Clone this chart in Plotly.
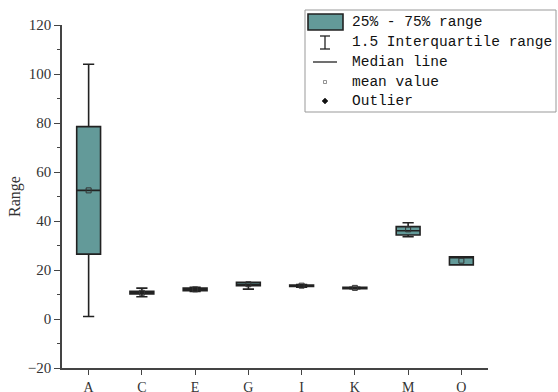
import plotly.graph_objects as go

categories = ["A", "C", "E", "G", "I", "K", "M", "O"]
q1 =          [26.5, 10.2, 11.6, 13.6, 13.3, 12.4, 34.3, 22.1]
median =      [52.5, 10.7, 12.1, 14.2, 13.6, 12.7, 36.0, 25.0]
q3 =          [78.5, 11.3, 12.6, 15.0, 13.9, 12.9, 37.7, 25.4]
lowerfence =  [1.0, 9.1, 11.2, 12.2, 13.0, 12.3, 33.6, 22.1]
upperfence =  [104.0, 12.6, 12.9, 15.0, 14.1, 13.0, 39.3, 25.4]
mean =        [52.5, 10.7, 12.1, 14.2, 13.6, 12.7, 36.6, 23.8]

legend_labels = ["25% - 75% range", "1.5 Interquartile range", "Median line", "mean value", "Outlier"]

FILL = "#639a99"
EDGE = "#222222"
W, H = 558, 392
L, R, T, B = 62, 488, 25, 368  # plot area in window pixels

fig = go.Figure()
fig.add_trace(go.Box(
    x=categories, q1=q1, median=median, q3=q3,
    lowerfence=lowerfence, upperfence=upperfence,
    fillcolor=FILL, line=dict(color=EDGE, width=1.6),
    whiskerwidth=0.47, boxpoints=False, showlegend=False,
    hoverinfo="skip",
))
fig.add_trace(go.Scatter(
    x=categories, y=mean, mode="markers",
    marker=dict(symbol="square-open", size=5, color="#333333", line=dict(width=1)),
    showlegend=False, hoverinfo="skip",
))

def px(x):
    return (x - L) / (R - L)

def py(y):
    return (B - y) / (B - T)

shapes = []
shapes.append(dict(type="rect", xref="paper", yref="paper",
                   x0=px(305), x1=px(556), y0=py(112), y1=py(10),
                   line=dict(color="#999999", width=1), fillcolor="white", layer="above"))
shapes.append(dict(type="rect", xref="paper", yref="paper",
                   x0=px(308), x1=px(343), y0=py(30), y1=py(14),
                   line=dict(color=EDGE, width=1.6), fillcolor=FILL, layer="above"))
shapes.append(dict(type="line", xref="paper", yref="paper",
                   x0=px(325), x1=px(325), y0=py(49), y1=py(36),
                   line=dict(color=EDGE, width=1.3), layer="above"))
for yy in (36, 49):
    shapes.append(dict(type="line", xref="paper", yref="paper",
                       x0=px(320), x1=px(330), y0=py(yy), y1=py(yy),
                       line=dict(color=EDGE, width=1.3), layer="above"))
shapes.append(dict(type="line", xref="paper", yref="paper",
                   x0=px(313), x1=px(337), y0=py(62), y1=py(62),
                   line=dict(color=EDGE, width=1.3), layer="above"))
shapes.append(dict(type="rect", xref="paper", yref="paper",
                   x0=px(323.5), x1=px(326.5), y0=py(83.5), y1=py(80.5),
                   line=dict(color="#777777", width=0.8), fillcolor="white", layer="above"))
shapes.append(dict(type="path", xref="paper", yref="paper",
                   path=f"M {px(325)},{py(98)} L {px(328)},{py(101)} L {px(325)},{py(104)} L {px(322)},{py(101)} Z",
                   line=dict(color="#111111", width=0.5), fillcolor="#111111", layer="above"))

annotations = []
for i, lab in enumerate(legend_labels):
    yy = [22, 42, 62, 82, 101][i]
    annotations.append(dict(xref="paper", yref="paper", x=px(350), y=py(yy),
                            text=lab, showarrow=False, xanchor="left", yanchor="middle",
                            font=dict(family="Liberation Mono, DejaVu Sans Mono, monospace", size=14.5, color="#111111")))

fig.update_layout(
    width=W, height=H,
    margin=dict(l=L, r=W - R, t=T, b=H - B, pad=0, autoexpand=False),
    plot_bgcolor="white", paper_bgcolor="white",
    boxgap=0.36,
    shapes=shapes, annotations=annotations,
    font=dict(family="Liberation Serif, Times New Roman, serif", size=13, color="#333333"),
)
fig.update_xaxes(
    type="category", range=[-0.5, 7.5], automargin=False,
    showline=True, linecolor="#444444", linewidth=1.5,
    ticks="outside", ticklen=5, tickwidth=1.2, tickcolor="#444444",
    showgrid=False, zeroline=False,
    tickfont=dict(family="Liberation Serif, serif", size=14, color="#333333"),
)
fig.update_yaxes(
    range=[-20, 120], tickmode="linear", tick0=-20, dtick=20, automargin=False,
    showline=True, linecolor="#444444", linewidth=1.5,
    ticks="outside", ticklen=6, tickwidth=1.2, tickcolor="#444444",
    minor=dict(ticks="outside", ticklen=3, tickwidth=1.2, tickcolor="#444444", dtick=10),
    showgrid=False, zeroline=False,
    title=dict(text="Range", font=dict(family="Liberation Serif, serif", size=16, color="#333333"), standoff=3),
    tickfont=dict(family="Liberation Serif, serif", size=15, color="#333333"),
)

fig.write_html(
    "out.html",
    config={"displayModeBar": False},
    post_script="document.body.style.margin='0';document.body.style.overflow='hidden';",
)
